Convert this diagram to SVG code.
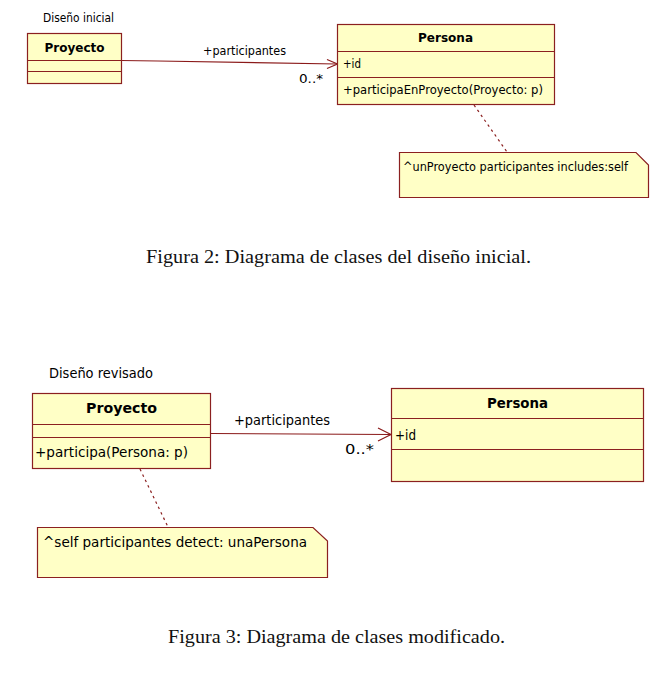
<svg xmlns="http://www.w3.org/2000/svg" width="664" height="682" viewBox="0 0 664 682">
<style>
.box{fill:#FFFFC6;stroke:#8B2020;stroke-width:1.2}
.div{stroke:#8B2020;stroke-width:1.2;fill:none}
.conn{stroke:#8B1A1A;stroke-width:1.2;fill:none}
.dash{stroke:#8B2020;stroke-width:1.2;fill:none;stroke-dasharray:2.5,3.5}
.t{font-family:"DejaVu Sans","Liberation Sans",sans-serif;fill:#000}
.b{font-family:"DejaVu Sans","Liberation Sans",sans-serif;font-weight:bold;fill:#000}
.cap{font-family:"Liberation Serif","DejaVu Serif",serif;font-size:18px;fill:#111}
</style>
<rect width="664" height="682" fill="#fff"/>

<!-- Figure 2 -->
<text class="t" x="43" y="22" font-size="12" textLength="71" lengthAdjust="spacingAndGlyphs">Diseño inicial</text>

<g id="connectors">
  <polyline class="conn" points="121,60.5 158,61 337,64"/>
  <polyline class="conn" points="327,59.5 337.5,64 327,68.5"/>
  <line class="dash" x1="474" y1="105" x2="507" y2="152"/>
  <polyline class="conn" points="211,433.5 300,434 391,434.5"/>
  <polyline class="conn" points="378,428 391,434.5 378,441"/>
  <line class="dash" x1="140" y1="469" x2="168" y2="527"/>
</g>

<g id="proyecto1">
  <rect class="box" x="27.5" y="33.5" width="94" height="50"/>
  <line class="div" x1="27.5" y1="60.5" x2="121.5" y2="60.5"/>
  <line class="div" x1="27.5" y1="71.5" x2="121.5" y2="71.5"/>
  <text class="b" x="74.5" y="52" font-size="12.5" text-anchor="middle" textLength="60" lengthAdjust="spacingAndGlyphs">Proyecto</text>
</g>

<g id="persona1">
  <rect class="box" x="337.5" y="24.5" width="217" height="80"/>
  <line class="div" x1="337.5" y1="51.5" x2="554.5" y2="51.5"/>
  <line class="div" x1="337.5" y1="77.5" x2="554.5" y2="77.5"/>
  <text class="b" x="445.5" y="42" font-size="12.5" text-anchor="middle" textLength="55" lengthAdjust="spacingAndGlyphs">Persona</text>
  <text class="t" x="343" y="68" font-size="12" textLength="18" lengthAdjust="spacingAndGlyphs">+id</text>
  <text class="t" x="343" y="94" font-size="12" textLength="200" lengthAdjust="spacingAndGlyphs">+participaEnProyecto(Proyecto: p)</text>
</g>

<g id="labels1">
  <text class="t" x="203" y="55" font-size="12" textLength="83" lengthAdjust="spacingAndGlyphs">+participantes</text>
  <text class="t" x="299" y="83" font-size="12" textLength="24" lengthAdjust="spacingAndGlyphs">0..*</text>
</g>

<g id="note1">
  <path class="box" d="M399.5,152.5 H636 L648.5,165 V197.5 H399.5 Z"/>
  <text class="t" x="403" y="171" font-size="12" textLength="225" lengthAdjust="spacingAndGlyphs">^unProyecto participantes includes:self</text>
</g>

<text class="cap" x="146" y="263" textLength="385" lengthAdjust="spacingAndGlyphs">Figura 2: Diagrama de clases del diseño inicial.</text>

<!-- Figure 3 -->
<text class="t" x="49" y="378" font-size="13.5" textLength="104" lengthAdjust="spacingAndGlyphs">Diseño revisado</text>

<g id="proyecto2">
  <rect class="box" x="32.5" y="393.5" width="178" height="75"/>
  <line class="div" x1="32.5" y1="424.5" x2="210.5" y2="424.5"/>
  <line class="div" x1="32.5" y1="437.5" x2="210.5" y2="437.5"/>
  <text class="b" x="121.5" y="413" font-size="14.5" text-anchor="middle" textLength="71" lengthAdjust="spacingAndGlyphs">Proyecto</text>
  <text class="t" x="35" y="457" font-size="14" textLength="153" lengthAdjust="spacingAndGlyphs">+participa(Persona: p)</text>
</g>

<g id="persona2">
  <rect class="box" x="391.5" y="388.5" width="252" height="93"/>
  <line class="div" x1="391.5" y1="418.5" x2="643.5" y2="418.5"/>
  <line class="div" x1="391.5" y1="449.5" x2="643.5" y2="449.5"/>
  <text class="b" x="517.5" y="408" font-size="14.5" text-anchor="middle" textLength="61" lengthAdjust="spacingAndGlyphs">Persona</text>
  <text class="t" x="395" y="440" font-size="14" textLength="21" lengthAdjust="spacingAndGlyphs">+id</text>
</g>

<g id="labels2">
  <text class="t" x="234" y="425" font-size="14" textLength="96" lengthAdjust="spacingAndGlyphs">+participantes</text>
  <text class="t" x="345" y="454" font-size="14" textLength="29" lengthAdjust="spacingAndGlyphs">0..*</text>
</g>

<g id="note2">
  <path class="box" d="M37.5,527.5 H313 L327.5,541 V577.5 H37.5 Z"/>
  <text class="t" x="43" y="547" font-size="14" textLength="264" lengthAdjust="spacingAndGlyphs">^self  participantes detect: unaPersona</text>
</g>

<text class="cap" x="168" y="643" textLength="337" lengthAdjust="spacingAndGlyphs">Figura 3: Diagrama de clases modificado.</text>
</svg>
